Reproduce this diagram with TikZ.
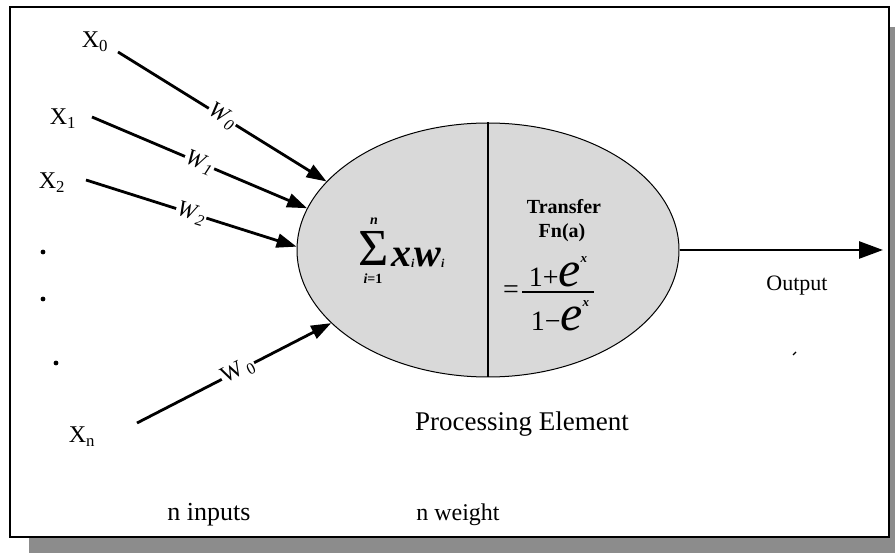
\documentclass[tikz,border=0pt]{standalone}
\usepackage{fontspec}
\setmainfont{Liberation Serif}
\usetikzlibrary{shapes.geometric,arrows.meta}
\begin{document}
\begin{tikzpicture}[x=1pt,y=-1pt,
  inarrow/.style={line width=2.8pt,-{Triangle[length=20pt,width=14pt]}},
  outarrow/.style={line width=2.6pt,-{Triangle[length=24pt,width=17pt]}},
  wlab/.style={fill=white,inner sep=1pt,font=\fontsize{23}{23}\selectfont,sloped,pos=0.5},
  xlab/.style={inner sep=0pt,font=\fontsize{24}{24}\selectfont},
  txt/.style={inner sep=0pt},
  dotmark/.style={fill=black}]
\useasboundingbox (0,0) rectangle (895,553);
% frame with shadow
\fill[black!45] (29,27) rectangle (895,553);
\draw[line width=1.5pt,fill=white] (10,7) rectangle (889,537);
% processing element
\node[ellipse,draw,line width=1pt,fill=black!15,minimum width=382pt,minimum height=254pt,inner sep=0pt] (pe) at (488,250) {};
\draw[line width=1.2pt] (pe.north) -- (pe.south);
% input labels
\node[xlab] (x0) at (95,42) {X\textsubscript{0}};
\node[xlab] (x1) at (63,119) {X\textsubscript{1}};
\node[xlab] (x2) at (52,183) {X\textsubscript{2}};
\node[xlab] (xn) at (82,437) {X\textsubscript{n}};
\fill[dotmark] (43,252) circle (2.4pt);
\fill[dotmark] (43,299) circle (2.4pt);
\fill[dotmark] (56,363) circle (2.4pt);
% start points of the weight lines
\coordinate (s0) at (118,52);
\coordinate (s1) at (92,117);
\coordinate (s2) at (86,180);
\coordinate (sn) at (137,423);
\draw[inarrow] (s0) -- node[wlab]{\textit{W}\textsubscript{\textit{0}}} (pe.157.6);
\draw[inarrow] (s1) -- node[wlab]{\textit{W}\textsubscript{\textit{1}}} (pe.167.5);
\draw[inarrow] (s2) -- node[wlab]{\textit{W}\textsubscript{\textit{2}}} (pe.179.4);
\draw[inarrow] (sn) -- node[wlab,pos=0.52]{W\,\textsubscript{0}} (pe.205.5);
% output
\coordinate (oend) at (883,250);
\draw[outarrow] (pe.east) -- (oend);
\node[txt,font=\fontsize{22}{22}\selectfont] (out) at (797,286) {Output};
\draw[line width=1.2pt] (793,355) -- (796,352);
% summation
\node[txt,font=\fontsize{52}{52}\selectfont,text height=35pt,text depth=0pt,anchor=base] (sig) at (374,266) {Σ};
\node[txt,font=\fontsize{14}{14}\selectfont\bfseries\itshape,anchor=south] (sup) at (374,225) {n};
\node[txt,font=\fontsize{14}{14}\selectfont\bfseries,anchor=north] (sub) at (373,274) {\textit{i}=1};
\node[txt,anchor=base west] (xw) at (391,267) {{\fontsize{40}{40}\selectfont\bfseries\itshape x}\raisebox{-1pt}{\fontsize{12}{12}\selectfont\bfseries\itshape i}{\fontsize{40}{40}\selectfont\bfseries\itshape w}\raisebox{-1pt}{\fontsize{12}{12}\selectfont\bfseries\itshape i}};
% transfer function
\node[txt,font=\fontsize{20}{20}\selectfont\bfseries] (tr) at (564,207) {Transfer};
\node[txt,font=\fontsize{20}{20}\selectfont\bfseries] (fn) at (562,233) {Fn(a)};
\node[txt,font=\fontsize{28}{28}\selectfont] (eq) at (511,292) {=};
\node[txt,anchor=base] (num) at (558,287) {{\fontsize{28}{28}\selectfont 1+}{\fontsize{50}{50}\selectfont\itshape e}\raisebox{24pt}{\fontsize{13}{13}\selectfont\bfseries\itshape x}};
\draw[line width=1.2pt] (522,292) -- (594,292);
\node[txt,anchor=base] (den) at (560,331) {{\fontsize{28}{28}\selectfont 1−}{\fontsize{50}{50}\selectfont\itshape e}\raisebox{24pt}{\fontsize{13}{13}\selectfont\bfseries\itshape x}};
% captions
\node[txt,font=\fontsize{27}{27}\selectfont] (pelab) at (522,424) {Processing Element};
\node[txt,font=\fontsize{26}{26}\selectfont] (nin) at (209,515) {n inputs};
\node[txt,font=\fontsize{24}{24}\selectfont] (nw) at (458,515) {n weight};
\end{tikzpicture}
\end{document}
